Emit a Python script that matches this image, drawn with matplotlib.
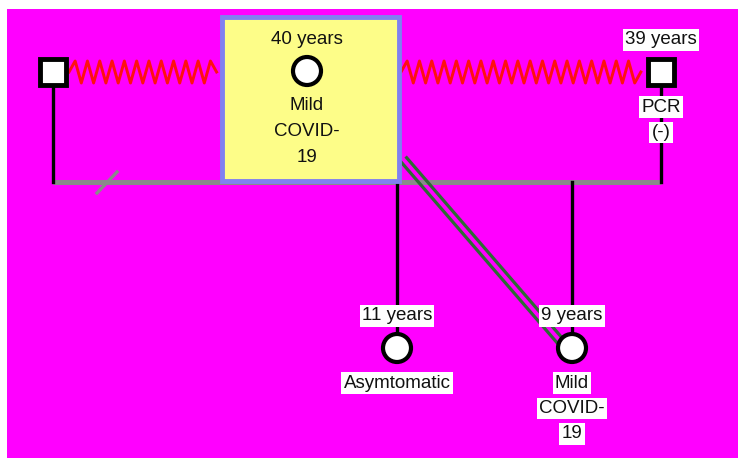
import numpy as np
import matplotlib.pyplot as plt
from matplotlib.patches import Rectangle, Circle

# genogram data
sex = ["M", "F", "M", "F", "F"]
age_labels = ["", "40 years", "39 years", "11 years", "9 years"]
notes = ["", "Mild\nCOVID-\n19", "PCR\n(-)", "Asymtomatic", "Mild\nCOVID-\n19"]
highlighted = [False, True, False, False, False]

# layout (pixel coordinates, y down)
px = [53, 307, 661, 397, 572]
py = [72, 71, 72, 348, 348]
line_y = 182

plt.rcParams['font.family'] = ['Liberation Sans', 'DejaVu Sans']
fig = plt.figure(figsize=(7.38, 4.58), dpi=100)
ax = fig.add_axes([0, 0, 1, 1])
ax.set_xlim(0, 738)
ax.set_ylim(458, 0)
ax.axis('off')

# background
ax.add_patch(Rectangle((7, 9), 740, 460, fc='#ff00ff', ec='none', zorder=0))

# highlight box around index person
ax.add_patch(Rectangle((222, 17), 177, 164, fc='#fdfd88', ec='#8080f0', lw=3.5, zorder=3))

# zigzag (conflict) lines between partners
def zigzag(x0, x1, y, period=12.3, amp=11):
    xs = np.arange(x0, x1 + 0.1, period / 2)
    ys = y + amp * np.where(np.arange(len(xs)) % 2 == 0, 1, -1)
    ys[0] = y
    ys[-1] = y
    ax.plot(xs, ys, color='#ff1010', lw=2.1, zorder=2)

zigzag(px[0] + 16, 220, py[0])
zigzag(401, px[2] - 16, py[2])

# marriage line
ax.plot([px[0], px[2]], [line_y, line_y], color='#8a8a8a', lw=3.6, zorder=1, solid_capstyle='butt')
ax.plot([97, 117], [193, 172], color='#8a8a8a', lw=2.4, zorder=1)

# vertical lines of partners
for i in [0, 2]:
    ax.plot([px[i], px[i]], [py[i], line_y], color='black', lw=2.4, zorder=1)

# children lines
for i in [3, 4]:
    ax.plot([px[i], px[i]], [line_y, py[i]], color='black', lw=2.4, zorder=1)

# double green line (close relationship) mother -> daughter
x0, y0, x1, y1 = 404, 160, 561, 342
d = np.array([x1 - x0, y1 - y0], float)
n = np.array([-d[1], d[0]]) / np.hypot(*d)
for s in [-3.5, 3.5]:
    ax.plot([x0 + s * n[0], x1 + s * n[0]], [y0 + s * n[1], y1 + s * n[1]],
            color='#2e6b35', lw=2.3, zorder=2)

# persons
for i in range(len(sex)):
    if sex[i] == "M":
        ax.add_patch(Rectangle((px[i] - 13, py[i] - 13), 26, 26, fc='white', ec='black',
                               lw=3.5, zorder=5))
    else:
        ax.add_patch(Circle((px[i], py[i]), 14, fc='white', ec='black', lw=3, zorder=5))

box = dict(boxstyle='square,pad=0.12', fc='white', ec='none')
for i in range(len(sex)):
    b = None if highlighted[i] else box
    if age_labels[i]:
        ax.text(px[i], py[i] - 32, age_labels[i], ha='center', va='center', fontsize=13.5,
                color='#111111', bbox=b, zorder=6)
    if notes[i]:
        for k, line in enumerate(notes[i].split("\n")):
            ax.text(px[i], py[i] + 35 + 25.5 * k, line, ha='center', va='center', fontsize=13.5,
                    color='#111111', bbox=b, zorder=6)

fig.savefig('out.png', dpi=100)
